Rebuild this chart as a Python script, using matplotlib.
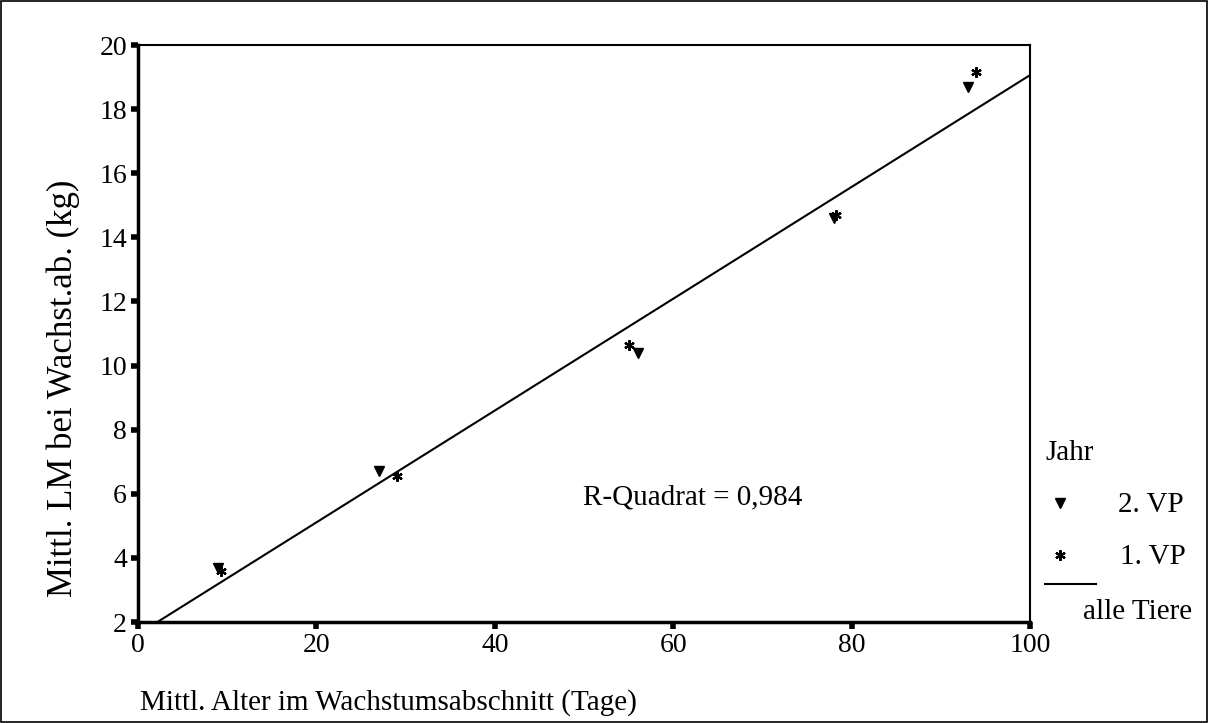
import numpy as np
import matplotlib
matplotlib.use("Agg")
from matplotlib import pyplot as plt
from matplotlib.lines import Line2D
from matplotlib.patches import Rectangle

# 2. VP (triangles)
vp2_x = [9, 27, 56, 78, 93]
vp2_y = [3.7, 6.7, 10.4, 14.6, 18.7]

# 1. VP (asterisks)
vp1_x = [9.3, 29, 55, 78.2, 94]
vp1_y = [3.6, 6.55, 10.65, 14.7, 19.15]

# regression line for all animals
fit_intercept = 1.62
fit_slope = 0.1744
r_squared = "0,984"

plt.rcParams['font.family'] = ['Liberation Serif', 'DejaVu Serif']
fs_tick = 20
fs = 21

W, H = 1208, 723


def fx(p):
    return p / W


def fy(p):
    return 1 - p / H


fig = plt.figure(figsize=(W / 100, H / 100), dpi=100)
ax = fig.add_axes([fx(138), fy(622), (1030 - 138) / W, (622 - 45) / H])

ax.set_xlim(0, 100)
ax.set_ylim(2, 20)

# fitted line, starts where it crosses y=2
x0 = (2 - fit_intercept) / fit_slope
xs = np.array([x0, 100])
ax.plot(xs, fit_intercept + fit_slope * xs, color='black', lw=1.5)

ax.plot(vp2_x, vp2_y, 'v', color='black', markersize=6.5, linestyle='none')
ax.plot(vp1_x, vp1_y, marker=(6, 2, 0), color='black', markersize=7.5,
        markeredgewidth=1.6, linestyle='none')

ax.text(49.9, 5.9, "R-Quadrat = " + r_squared, fontsize=fs, va='center', ha='left')

ax.set_xticks([0, 20, 40, 60, 80, 100])
ax.set_yticks([2, 4, 6, 8, 10, 12, 14, 16, 18, 20])
ax.tick_params(direction='out', length=5, width=4, labelsize=fs_tick, pad=3)
for side in ['left', 'bottom']:
    ax.spines[side].set_linewidth(2.5)
for side in ['top', 'right']:
    ax.spines[side].set_linewidth(1.5)

fig.text(fx(63), fy(388), "Mittl. LM bei Wachst.ab. (kg)", fontsize=25,
         rotation=90, ha='center', va='center')
fig.text(fx(140), fy(703), "Mittl. Alter im Wachstumsabschnitt (Tage)",
         fontsize=fs, ha='left', va='center')

# legend, drawn by hand on the right
fig.text(fx(1045), fy(453), "Jahr", fontsize=fs, ha='left', va='center')
fig.add_artist(Line2D([fx(1060)], [fy(503)], marker='v', color='black', markersize=6.5,
                      linestyle='none', transform=fig.transFigure))
fig.text(fx(1118), fy(505), "2. VP", fontsize=fs, ha='left', va='center')
fig.add_artist(Line2D([fx(1060)], [fy(555)], marker=(6, 2, 0), color='black', markersize=7.5,
                      markeredgewidth=1.6, linestyle='none', transform=fig.transFigure))
fig.text(fx(1120), fy(557), "1. VP", fontsize=fs, ha='left', va='center')
fig.add_artist(Line2D([fx(1045), fx(1096)], [fy(584), fy(584)], color='black', lw=1.5,
                      transform=fig.transFigure))
fig.text(fx(1083), fy(612), "alle Tiere", fontsize=fs, ha='left', va='center')

# outer frame
fig.add_artist(Rectangle((0.001, 0.001), 0.998, 0.998, fill=False, edgecolor='black',
                         lw=1.2, transform=fig.transFigure))

fig.savefig("out.png", dpi=100)
